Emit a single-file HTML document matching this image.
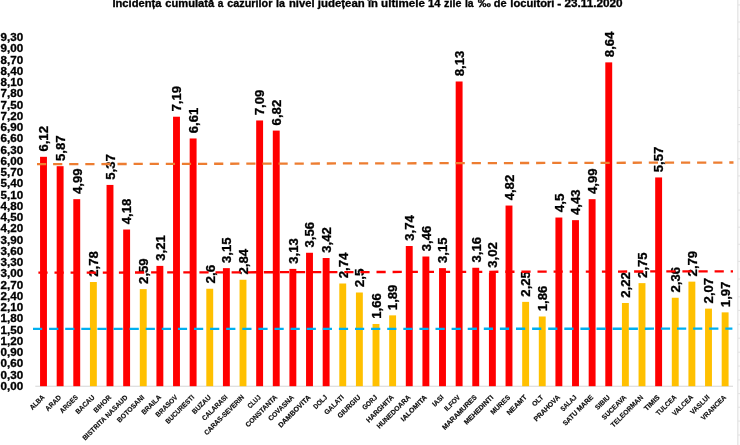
<!DOCTYPE html>
<html lang="ro"><head><meta charset="utf-8"><title>Incidenta cumulata</title>
<style>html,body{margin:0;padding:0;background:#fff}body{width:740px;height:445px;overflow:hidden}svg{display:block}text{font-family:"Liberation Sans",Arial,sans-serif;font-weight:bold;fill:#000;stroke:#000;stroke-width:0.3px}.c{stroke-width:0.15px;fill:#0a0a0a}</style></head><body>
<svg width="740" height="445" viewBox="0 0 740 445">
<rect width="740" height="445" fill="#fff"/>
<rect x="738.5" y="0" width="1.5" height="445" fill="#fbfbfb"/>
<rect x="737.1" y="0" width="1.4" height="445" fill="#e6e6e6"/>
<rect x="738" y="4.4" width="2" height="1" fill="#e2e2e2"/>
<rect x="738" y="21.5" width="2" height="1" fill="#e2e2e2"/>
<rect x="738" y="38.6" width="2" height="1" fill="#e2e2e2"/>
<rect x="738" y="55.7" width="2" height="1" fill="#e2e2e2"/>
<rect x="738" y="72.8" width="2" height="1" fill="#e2e2e2"/>
<rect x="738" y="89.9" width="2" height="1" fill="#e2e2e2"/>
<rect x="738" y="107.0" width="2" height="1" fill="#e2e2e2"/>
<rect x="738" y="124.1" width="2" height="1" fill="#e2e2e2"/>
<rect x="738" y="141.2" width="2" height="1" fill="#e2e2e2"/>
<rect x="738" y="158.3" width="2" height="1" fill="#e2e2e2"/>
<rect x="738" y="175.4" width="2" height="1" fill="#e2e2e2"/>
<rect x="738" y="192.5" width="2" height="1" fill="#e2e2e2"/>
<rect x="738" y="209.6" width="2" height="1" fill="#e2e2e2"/>
<rect x="738" y="226.7" width="2" height="1" fill="#e2e2e2"/>
<rect x="738" y="243.8" width="2" height="1" fill="#e2e2e2"/>
<rect x="738" y="260.9" width="2" height="1" fill="#e2e2e2"/>
<rect x="738" y="278.5" width="2" height="1" fill="#e2e2e2"/>
<rect x="738" y="296.3" width="2" height="1" fill="#e2e2e2"/>
<rect x="738" y="309.9" width="2" height="1" fill="#e2e2e2"/>
<rect x="738" y="323.8" width="2" height="1" fill="#e2e2e2"/>
<rect x="738" y="337.7" width="2" height="1" fill="#e2e2e2"/>
<rect x="738" y="351.7" width="2" height="1" fill="#e2e2e2"/>
<rect x="738" y="365.6" width="2" height="1" fill="#e2e2e2"/>
<rect x="738" y="379.4" width="2" height="1" fill="#e2e2e2"/>
<rect x="738" y="393.1" width="2" height="1" fill="#e2e2e2"/>
<rect x="738" y="406.8" width="2" height="1" fill="#e2e2e2"/>
<rect x="738" y="420.6" width="2" height="1" fill="#e2e2e2"/>
<rect x="738" y="434.5" width="2" height="1" fill="#e2e2e2"/>
<text class="tw" y="6.65" font-size="10"><tspan x="112.43" textLength="49.14" lengthAdjust="spacingAndGlyphs">Incidența</tspan> <tspan x="165.35" textLength="48.87" lengthAdjust="spacingAndGlyphs">cumulată</tspan> <tspan x="217.71" textLength="5.61" lengthAdjust="spacingAndGlyphs">a</tspan> <tspan x="227.32" textLength="45.09" lengthAdjust="spacingAndGlyphs">cazurilor</tspan> <tspan x="276.12" textLength="8.95" lengthAdjust="spacingAndGlyphs">la</tspan> <tspan x="289.02" textLength="25.51" lengthAdjust="spacingAndGlyphs">nivel</tspan> <tspan x="317.88" textLength="46.91" lengthAdjust="spacingAndGlyphs">județean</tspan> <tspan x="367.92" textLength="9.99" lengthAdjust="spacingAndGlyphs">în</tspan> <tspan x="381.08" textLength="43.80" lengthAdjust="spacingAndGlyphs">ultimele</tspan> <tspan x="428.09" textLength="12.49" lengthAdjust="spacingAndGlyphs">14</tspan> <tspan x="444.08" textLength="17.31" lengthAdjust="spacingAndGlyphs">zile</tspan> <tspan x="464.97" textLength="8.64" lengthAdjust="spacingAndGlyphs">la</tspan> <tspan x="477.82" textLength="13.13" lengthAdjust="spacingAndGlyphs">‰</tspan> <tspan x="493.87" textLength="12.86" lengthAdjust="spacingAndGlyphs">de</tspan> <tspan x="510.28" textLength="44.23" lengthAdjust="spacingAndGlyphs">locuitori</tspan> <tspan x="557.36" textLength="4.05" lengthAdjust="spacingAndGlyphs">-</tspan> <tspan x="564.43" textLength="58.21" lengthAdjust="spacingAndGlyphs">23.11.2020</tspan></text>
<text x="0.5" y="389.7" font-size="10.0" textLength="22.6" lengthAdjust="spacingAndGlyphs">0,00</text>
<text x="0.5" y="378.5" font-size="10.0" textLength="22.6" lengthAdjust="spacingAndGlyphs">0,30</text>
<text x="0.5" y="367.2" font-size="10.0" textLength="22.6" lengthAdjust="spacingAndGlyphs">0,60</text>
<text x="0.5" y="356.0" font-size="10.0" textLength="22.6" lengthAdjust="spacingAndGlyphs">0,90</text>
<text x="0.5" y="344.7" font-size="10.0" textLength="22.6" lengthAdjust="spacingAndGlyphs">1,20</text>
<text x="0.5" y="333.5" font-size="10.0" textLength="22.6" lengthAdjust="spacingAndGlyphs">1,50</text>
<text x="0.5" y="322.2" font-size="10.0" textLength="22.6" lengthAdjust="spacingAndGlyphs">1,80</text>
<text x="0.5" y="311.0" font-size="10.0" textLength="22.6" lengthAdjust="spacingAndGlyphs">2,10</text>
<text x="0.5" y="299.7" font-size="10.0" textLength="22.6" lengthAdjust="spacingAndGlyphs">2,40</text>
<text x="0.5" y="288.5" font-size="10.0" textLength="22.6" lengthAdjust="spacingAndGlyphs">2,70</text>
<text x="0.5" y="277.3" font-size="10.0" textLength="22.6" lengthAdjust="spacingAndGlyphs">3,00</text>
<text x="0.5" y="266.0" font-size="10.0" textLength="22.6" lengthAdjust="spacingAndGlyphs">3,30</text>
<text x="0.5" y="254.8" font-size="10.0" textLength="22.6" lengthAdjust="spacingAndGlyphs">3,60</text>
<text x="0.5" y="243.5" font-size="10.0" textLength="22.6" lengthAdjust="spacingAndGlyphs">3,90</text>
<text x="0.5" y="232.3" font-size="10.0" textLength="22.6" lengthAdjust="spacingAndGlyphs">4,20</text>
<text x="0.5" y="221.0" font-size="10.0" textLength="22.6" lengthAdjust="spacingAndGlyphs">4,50</text>
<text x="0.5" y="209.8" font-size="10.0" textLength="22.6" lengthAdjust="spacingAndGlyphs">4,80</text>
<text x="0.5" y="198.6" font-size="10.0" textLength="22.6" lengthAdjust="spacingAndGlyphs">5,10</text>
<text x="0.5" y="187.3" font-size="10.0" textLength="22.6" lengthAdjust="spacingAndGlyphs">5,40</text>
<text x="0.5" y="176.1" font-size="10.0" textLength="22.6" lengthAdjust="spacingAndGlyphs">5,70</text>
<text x="0.5" y="164.8" font-size="10.0" textLength="22.6" lengthAdjust="spacingAndGlyphs">6,00</text>
<text x="0.5" y="153.6" font-size="10.0" textLength="22.6" lengthAdjust="spacingAndGlyphs">6,30</text>
<text x="0.5" y="142.3" font-size="10.0" textLength="22.6" lengthAdjust="spacingAndGlyphs">6,60</text>
<text x="0.5" y="131.1" font-size="10.0" textLength="22.6" lengthAdjust="spacingAndGlyphs">6,90</text>
<text x="0.5" y="119.8" font-size="10.0" textLength="22.6" lengthAdjust="spacingAndGlyphs">7,20</text>
<text x="0.5" y="108.6" font-size="10.0" textLength="22.6" lengthAdjust="spacingAndGlyphs">7,50</text>
<text x="0.5" y="97.4" font-size="10.0" textLength="22.6" lengthAdjust="spacingAndGlyphs">7,80</text>
<text x="0.5" y="86.1" font-size="10.0" textLength="22.6" lengthAdjust="spacingAndGlyphs">8,10</text>
<text x="0.5" y="74.9" font-size="10.0" textLength="22.6" lengthAdjust="spacingAndGlyphs">8,40</text>
<text x="0.5" y="63.6" font-size="10.0" textLength="22.6" lengthAdjust="spacingAndGlyphs">8,70</text>
<text x="0.5" y="52.4" font-size="10.0" textLength="22.6" lengthAdjust="spacingAndGlyphs">9,00</text>
<text x="0.5" y="41.1" font-size="10.0" textLength="22.6" lengthAdjust="spacingAndGlyphs">9,30</text>
<rect x="35.3" y="385.70" width="697.7" height="1.1" fill="#d9d9d9"/>
<rect x="40.05" y="156.82" width="6.9" height="229.38" fill="#ff0000"/>
<rect x="56.68" y="166.19" width="6.9" height="220.01" fill="#ff0000"/>
<rect x="73.30" y="199.17" width="6.9" height="187.03" fill="#ff0000"/>
<rect x="89.93" y="282.01" width="6.9" height="104.19" fill="#ffc000"/>
<rect x="106.55" y="184.93" width="6.9" height="201.27" fill="#ff0000"/>
<rect x="123.18" y="229.53" width="6.9" height="156.67" fill="#ff0000"/>
<rect x="139.80" y="289.13" width="6.9" height="97.07" fill="#ffc000"/>
<rect x="156.43" y="265.89" width="6.9" height="120.31" fill="#ff0000"/>
<rect x="173.05" y="116.72" width="6.9" height="269.48" fill="#ff0000"/>
<rect x="189.68" y="138.46" width="6.9" height="247.74" fill="#ff0000"/>
<rect x="206.30" y="288.75" width="6.9" height="97.45" fill="#ffc000"/>
<rect x="222.93" y="268.14" width="6.9" height="118.06" fill="#ff0000"/>
<rect x="239.55" y="279.76" width="6.9" height="106.44" fill="#ffc000"/>
<rect x="256.18" y="120.47" width="6.9" height="265.73" fill="#ff0000"/>
<rect x="272.80" y="130.59" width="6.9" height="255.61" fill="#ff0000"/>
<rect x="289.43" y="268.89" width="6.9" height="117.31" fill="#ff0000"/>
<rect x="306.05" y="252.77" width="6.9" height="133.43" fill="#ff0000"/>
<rect x="322.68" y="258.02" width="6.9" height="128.18" fill="#ff0000"/>
<rect x="339.30" y="283.50" width="6.9" height="102.70" fill="#ffc000"/>
<rect x="355.93" y="292.50" width="6.9" height="93.70" fill="#ffc000"/>
<rect x="372.55" y="323.98" width="6.9" height="62.22" fill="#ffc000"/>
<rect x="389.18" y="315.36" width="6.9" height="70.84" fill="#ffc000"/>
<rect x="405.80" y="246.02" width="6.9" height="140.18" fill="#ff0000"/>
<rect x="422.43" y="256.52" width="6.9" height="129.68" fill="#ff0000"/>
<rect x="439.05" y="268.14" width="6.9" height="118.06" fill="#ff0000"/>
<rect x="455.68" y="81.49" width="6.9" height="304.71" fill="#ff0000"/>
<rect x="472.30" y="267.76" width="6.9" height="118.44" fill="#ff0000"/>
<rect x="488.93" y="273.01" width="6.9" height="113.19" fill="#ff0000"/>
<rect x="505.55" y="205.55" width="6.9" height="180.65" fill="#ff0000"/>
<rect x="522.18" y="301.87" width="6.9" height="84.33" fill="#ffc000"/>
<rect x="538.80" y="316.49" width="6.9" height="69.71" fill="#ffc000"/>
<rect x="555.43" y="217.54" width="6.9" height="168.66" fill="#ff0000"/>
<rect x="572.05" y="220.16" width="6.9" height="166.04" fill="#ff0000"/>
<rect x="588.68" y="199.17" width="6.9" height="187.03" fill="#ff0000"/>
<rect x="605.30" y="62.37" width="6.9" height="323.83" fill="#ff0000"/>
<rect x="621.93" y="302.99" width="6.9" height="83.21" fill="#ffc000"/>
<rect x="638.55" y="283.13" width="6.9" height="103.07" fill="#ffc000"/>
<rect x="655.18" y="177.44" width="6.9" height="208.76" fill="#ff0000"/>
<rect x="671.80" y="297.75" width="6.9" height="88.45" fill="#ffc000"/>
<rect x="688.43" y="281.63" width="6.9" height="104.57" fill="#ffc000"/>
<rect x="705.05" y="308.62" width="6.9" height="77.58" fill="#ffc000"/>
<rect x="721.68" y="312.36" width="6.9" height="73.84" fill="#ffc000"/>
<text transform="translate(48.30,151.62) rotate(-90)" font-size="12.4" textLength="25.6" lengthAdjust="spacingAndGlyphs">6,12</text>
<text transform="translate(64.93,160.99) rotate(-90)" font-size="12.4" textLength="25.6" lengthAdjust="spacingAndGlyphs">5,87</text>
<text transform="translate(81.55,193.97) rotate(-90)" font-size="12.4" textLength="25.6" lengthAdjust="spacingAndGlyphs">4,99</text>
<text transform="translate(98.18,276.81) rotate(-90)" font-size="12.4" textLength="25.6" lengthAdjust="spacingAndGlyphs">2,78</text>
<text transform="translate(114.80,179.73) rotate(-90)" font-size="12.4" textLength="25.6" lengthAdjust="spacingAndGlyphs">5,37</text>
<text transform="translate(131.43,224.33) rotate(-90)" font-size="12.4" textLength="25.6" lengthAdjust="spacingAndGlyphs">4,18</text>
<text transform="translate(148.05,283.93) rotate(-90)" font-size="12.4" textLength="25.6" lengthAdjust="spacingAndGlyphs">2,59</text>
<text transform="translate(164.68,260.69) rotate(-90)" font-size="12.4" textLength="25.6" lengthAdjust="spacingAndGlyphs">3,21</text>
<text transform="translate(181.30,111.52) rotate(-90)" font-size="12.4" textLength="25.6" lengthAdjust="spacingAndGlyphs">7,19</text>
<text transform="translate(197.93,133.26) rotate(-90)" font-size="12.4" textLength="25.6" lengthAdjust="spacingAndGlyphs">6,61</text>
<text transform="translate(214.55,283.55) rotate(-90)" font-size="12.4" textLength="18.8" lengthAdjust="spacingAndGlyphs">2,6</text>
<text transform="translate(231.18,262.94) rotate(-90)" font-size="12.4" textLength="25.6" lengthAdjust="spacingAndGlyphs">3,15</text>
<text transform="translate(247.80,274.56) rotate(-90)" font-size="12.4" textLength="25.6" lengthAdjust="spacingAndGlyphs">2,84</text>
<text transform="translate(264.43,115.27) rotate(-90)" font-size="12.4" textLength="25.6" lengthAdjust="spacingAndGlyphs">7,09</text>
<text transform="translate(281.05,125.39) rotate(-90)" font-size="12.4" textLength="25.6" lengthAdjust="spacingAndGlyphs">6,82</text>
<text transform="translate(297.68,263.69) rotate(-90)" font-size="12.4" textLength="25.6" lengthAdjust="spacingAndGlyphs">3,13</text>
<text transform="translate(314.30,247.57) rotate(-90)" font-size="12.4" textLength="25.6" lengthAdjust="spacingAndGlyphs">3,56</text>
<text transform="translate(330.93,252.82) rotate(-90)" font-size="12.4" textLength="25.6" lengthAdjust="spacingAndGlyphs">3,42</text>
<text transform="translate(347.55,278.30) rotate(-90)" font-size="12.4" textLength="25.6" lengthAdjust="spacingAndGlyphs">2,74</text>
<text transform="translate(364.18,287.30) rotate(-90)" font-size="12.4" textLength="18.8" lengthAdjust="spacingAndGlyphs">2,5</text>
<text transform="translate(380.80,318.78) rotate(-90)" font-size="12.4" textLength="25.6" lengthAdjust="spacingAndGlyphs">1,66</text>
<text transform="translate(397.43,310.16) rotate(-90)" font-size="12.4" textLength="25.6" lengthAdjust="spacingAndGlyphs">1,89</text>
<text transform="translate(414.05,240.82) rotate(-90)" font-size="12.4" textLength="25.6" lengthAdjust="spacingAndGlyphs">3,74</text>
<text transform="translate(430.68,251.32) rotate(-90)" font-size="12.4" textLength="25.6" lengthAdjust="spacingAndGlyphs">3,46</text>
<text transform="translate(447.30,262.94) rotate(-90)" font-size="12.4" textLength="25.6" lengthAdjust="spacingAndGlyphs">3,15</text>
<text transform="translate(463.93,76.29) rotate(-90)" font-size="12.4" textLength="25.6" lengthAdjust="spacingAndGlyphs">8,13</text>
<text transform="translate(480.55,262.56) rotate(-90)" font-size="12.4" textLength="25.6" lengthAdjust="spacingAndGlyphs">3,16</text>
<text transform="translate(497.18,267.81) rotate(-90)" font-size="12.4" textLength="25.6" lengthAdjust="spacingAndGlyphs">3,02</text>
<text transform="translate(513.80,200.35) rotate(-90)" font-size="12.4" textLength="25.6" lengthAdjust="spacingAndGlyphs">4,82</text>
<text transform="translate(530.43,296.67) rotate(-90)" font-size="12.4" textLength="25.6" lengthAdjust="spacingAndGlyphs">2,25</text>
<text transform="translate(547.05,311.29) rotate(-90)" font-size="12.4" textLength="25.6" lengthAdjust="spacingAndGlyphs">1,86</text>
<text transform="translate(563.68,212.34) rotate(-90)" font-size="12.4" textLength="18.8" lengthAdjust="spacingAndGlyphs">4,5</text>
<text transform="translate(580.30,214.96) rotate(-90)" font-size="12.4" textLength="25.6" lengthAdjust="spacingAndGlyphs">4,43</text>
<text transform="translate(596.93,193.97) rotate(-90)" font-size="12.4" textLength="25.6" lengthAdjust="spacingAndGlyphs">4,99</text>
<text transform="translate(613.55,57.17) rotate(-90)" font-size="12.4" textLength="25.6" lengthAdjust="spacingAndGlyphs">8,64</text>
<text transform="translate(630.18,297.79) rotate(-90)" font-size="12.4" textLength="25.6" lengthAdjust="spacingAndGlyphs">2,22</text>
<text transform="translate(646.80,277.93) rotate(-90)" font-size="12.4" textLength="25.6" lengthAdjust="spacingAndGlyphs">2,75</text>
<text transform="translate(663.43,172.24) rotate(-90)" font-size="12.4" textLength="25.6" lengthAdjust="spacingAndGlyphs">5,57</text>
<text transform="translate(680.05,292.55) rotate(-90)" font-size="12.4" textLength="25.6" lengthAdjust="spacingAndGlyphs">2,36</text>
<text transform="translate(696.68,276.43) rotate(-90)" font-size="12.4" textLength="25.6" lengthAdjust="spacingAndGlyphs">2,79</text>
<text transform="translate(713.30,303.42) rotate(-90)" font-size="12.4" textLength="25.6" lengthAdjust="spacingAndGlyphs">2,07</text>
<text transform="translate(729.93,307.16) rotate(-90)" font-size="12.4" textLength="25.6" lengthAdjust="spacingAndGlyphs">1,97</text>
<line x1="37" y1="164.2" x2="733.5" y2="162.5" stroke="#ed7d31" stroke-width="2.3" stroke-dasharray="9.2 6.9"/>
<line x1="38.4" y1="272.7" x2="733" y2="271.3" stroke="#ff0000" stroke-width="2.3" stroke-dasharray="9.2 6.9"/>
<line x1="33" y1="328.9" x2="732.4" y2="328.7" stroke="#00b0f0" stroke-width="2.3" stroke-dasharray="9.2 6.9"/>
<text transform="translate(45.10,397.80) rotate(-45)" x="-17.67" class="c" font-size="7.0" textLength="17.67" lengthAdjust="spacingAndGlyphs">ALBA</text>
<text transform="translate(61.73,397.80) rotate(-45)" x="-19.36" class="c" font-size="7.0" textLength="19.36" lengthAdjust="spacingAndGlyphs">ARAD</text>
<text transform="translate(78.35,397.80) rotate(-45)" x="-22.27" class="c" font-size="7.0" textLength="22.27" lengthAdjust="spacingAndGlyphs">ARGES</text>
<text transform="translate(94.98,397.80) rotate(-45)" x="-23.69" class="c" font-size="7.0" textLength="23.69" lengthAdjust="spacingAndGlyphs">BACAU</text>
<text transform="translate(111.60,397.80) rotate(-45)" x="-21.70" class="c" font-size="7.0" textLength="21.70" lengthAdjust="spacingAndGlyphs">BIHOR</text>
<text transform="translate(128.23,397.80) rotate(-45)" x="-60.92" class="c" font-size="7.0" textLength="60.92" lengthAdjust="spacingAndGlyphs">BISTRITA NASAUD</text>
<text transform="translate(144.85,397.80) rotate(-45)" x="-35.52" class="c" font-size="7.0" textLength="35.52" lengthAdjust="spacingAndGlyphs">BOTOSANI</text>
<text transform="translate(161.48,397.80) rotate(-45)" x="-24.35" class="c" font-size="7.0" textLength="24.35" lengthAdjust="spacingAndGlyphs">BRAILA</text>
<text transform="translate(178.10,397.80) rotate(-45)" x="-27.92" class="c" font-size="7.0" textLength="27.92" lengthAdjust="spacingAndGlyphs">BRASOV</text>
<text transform="translate(194.73,397.80) rotate(-45)" x="-37.50" class="c" font-size="7.0" textLength="37.50" lengthAdjust="spacingAndGlyphs">BUCURESTI</text>
<text transform="translate(211.35,397.80) rotate(-45)" x="-23.57" class="c" font-size="7.0" textLength="23.57" lengthAdjust="spacingAndGlyphs">BUZAU</text>
<text transform="translate(227.98,397.80) rotate(-45)" x="-32.79" class="c" font-size="7.0" textLength="32.79" lengthAdjust="spacingAndGlyphs">CALARASI</text>
<text transform="translate(244.60,397.80) rotate(-45)" x="-53.22" class="c" font-size="7.0" textLength="53.22" lengthAdjust="spacingAndGlyphs">CARAS-SEVERIN</text>
<text transform="translate(261.23,397.80) rotate(-45)" x="-15.49" class="c" font-size="7.0" textLength="15.49" lengthAdjust="spacingAndGlyphs">CLUJ</text>
<text transform="translate(277.85,397.80) rotate(-45)" x="-41.84" class="c" font-size="7.0" textLength="41.84" lengthAdjust="spacingAndGlyphs">CONSTANTA</text>
<text transform="translate(294.48,397.80) rotate(-45)" x="-33.32" class="c" font-size="7.0" textLength="33.32" lengthAdjust="spacingAndGlyphs">COVASNA</text>
<text transform="translate(311.10,397.80) rotate(-45)" x="-42.69" class="c" font-size="7.0" textLength="42.69" lengthAdjust="spacingAndGlyphs">DAMBOVITA</text>
<text transform="translate(327.73,397.80) rotate(-45)" x="-16.57" class="c" font-size="7.0" textLength="16.57" lengthAdjust="spacingAndGlyphs">DOLJ</text>
<text transform="translate(344.35,397.80) rotate(-45)" x="-24.42" class="c" font-size="7.0" textLength="24.42" lengthAdjust="spacingAndGlyphs">GALATI</text>
<text transform="translate(360.98,397.80) rotate(-45)" x="-29.42" class="c" font-size="7.0" textLength="29.42" lengthAdjust="spacingAndGlyphs">GIURGIU</text>
<text transform="translate(377.60,397.80) rotate(-45)" x="-17.76" class="c" font-size="7.0" textLength="17.76" lengthAdjust="spacingAndGlyphs">GORJ</text>
<text transform="translate(394.23,397.80) rotate(-45)" x="-35.69" class="c" font-size="7.0" textLength="35.69" lengthAdjust="spacingAndGlyphs">HARGHITA</text>
<text transform="translate(410.85,397.80) rotate(-45)" x="-44.28" class="c" font-size="7.0" textLength="44.28" lengthAdjust="spacingAndGlyphs">HUNEDOARA</text>
<text transform="translate(427.48,397.80) rotate(-45)" x="-33.91" class="c" font-size="7.0" textLength="33.91" lengthAdjust="spacingAndGlyphs">IALOMITA</text>
<text transform="translate(444.10,397.80) rotate(-45)" x="-12.98" class="c" font-size="7.0" textLength="12.98" lengthAdjust="spacingAndGlyphs">IASI</text>
<text transform="translate(460.73,397.80) rotate(-45)" x="-19.44" class="c" font-size="7.0" textLength="19.44" lengthAdjust="spacingAndGlyphs">ILFOV</text>
<text transform="translate(477.35,397.80) rotate(-45)" x="-45.78" class="c" font-size="7.0" textLength="45.78" lengthAdjust="spacingAndGlyphs">MARAMURES</text>
<text transform="translate(493.98,397.80) rotate(-45)" x="-38.62" class="c" font-size="7.0" textLength="38.62" lengthAdjust="spacingAndGlyphs">MEHEDINTI</text>
<text transform="translate(510.60,397.80) rotate(-45)" x="-24.46" class="c" font-size="7.0" textLength="24.46" lengthAdjust="spacingAndGlyphs">MURES</text>
<text transform="translate(527.23,397.80) rotate(-45)" x="-25.12" class="c" font-size="7.0" textLength="25.12" lengthAdjust="spacingAndGlyphs">NEAMT</text>
<text transform="translate(543.85,397.80) rotate(-45)" x="-12.83" class="c" font-size="7.0" textLength="12.83" lengthAdjust="spacingAndGlyphs">OLT</text>
<text transform="translate(560.48,397.80) rotate(-45)" x="-33.83" class="c" font-size="7.0" textLength="33.83" lengthAdjust="spacingAndGlyphs">PRAHOVA</text>
<text transform="translate(577.10,397.80) rotate(-45)" x="-19.63" class="c" font-size="7.0" textLength="19.63" lengthAdjust="spacingAndGlyphs">SALAJ</text>
<text transform="translate(593.73,397.80) rotate(-45)" x="-40.02" class="c" font-size="7.0" textLength="40.02" lengthAdjust="spacingAndGlyphs">SATU MARE</text>
<text transform="translate(610.35,397.80) rotate(-45)" x="-17.78" class="c" font-size="7.0" textLength="17.78" lengthAdjust="spacingAndGlyphs">SIBIU</text>
<text transform="translate(626.98,397.80) rotate(-45)" x="-31.67" class="c" font-size="7.0" textLength="31.67" lengthAdjust="spacingAndGlyphs">SUCEAVA</text>
<text transform="translate(643.60,397.80) rotate(-45)" x="-42.43" class="c" font-size="7.0" textLength="42.43" lengthAdjust="spacingAndGlyphs">TELEORMAN</text>
<text transform="translate(660.23,397.80) rotate(-45)" x="-19.12" class="c" font-size="7.0" textLength="19.12" lengthAdjust="spacingAndGlyphs">TIMIS</text>
<text transform="translate(676.85,397.80) rotate(-45)" x="-25.62" class="c" font-size="7.0" textLength="25.62" lengthAdjust="spacingAndGlyphs">TULCEA</text>
<text transform="translate(693.48,397.80) rotate(-45)" x="-26.10" class="c" font-size="7.0" textLength="26.10" lengthAdjust="spacingAndGlyphs">VALCEA</text>
<text transform="translate(710.10,397.80) rotate(-45)" x="-24.16" class="c" font-size="7.0" textLength="24.16" lengthAdjust="spacingAndGlyphs">VASLUI</text>
<text transform="translate(726.73,397.80) rotate(-45)" x="-32.53" class="c" font-size="7.0" textLength="32.53" lengthAdjust="spacingAndGlyphs">VRANCEA</text>
</svg></body></html>
